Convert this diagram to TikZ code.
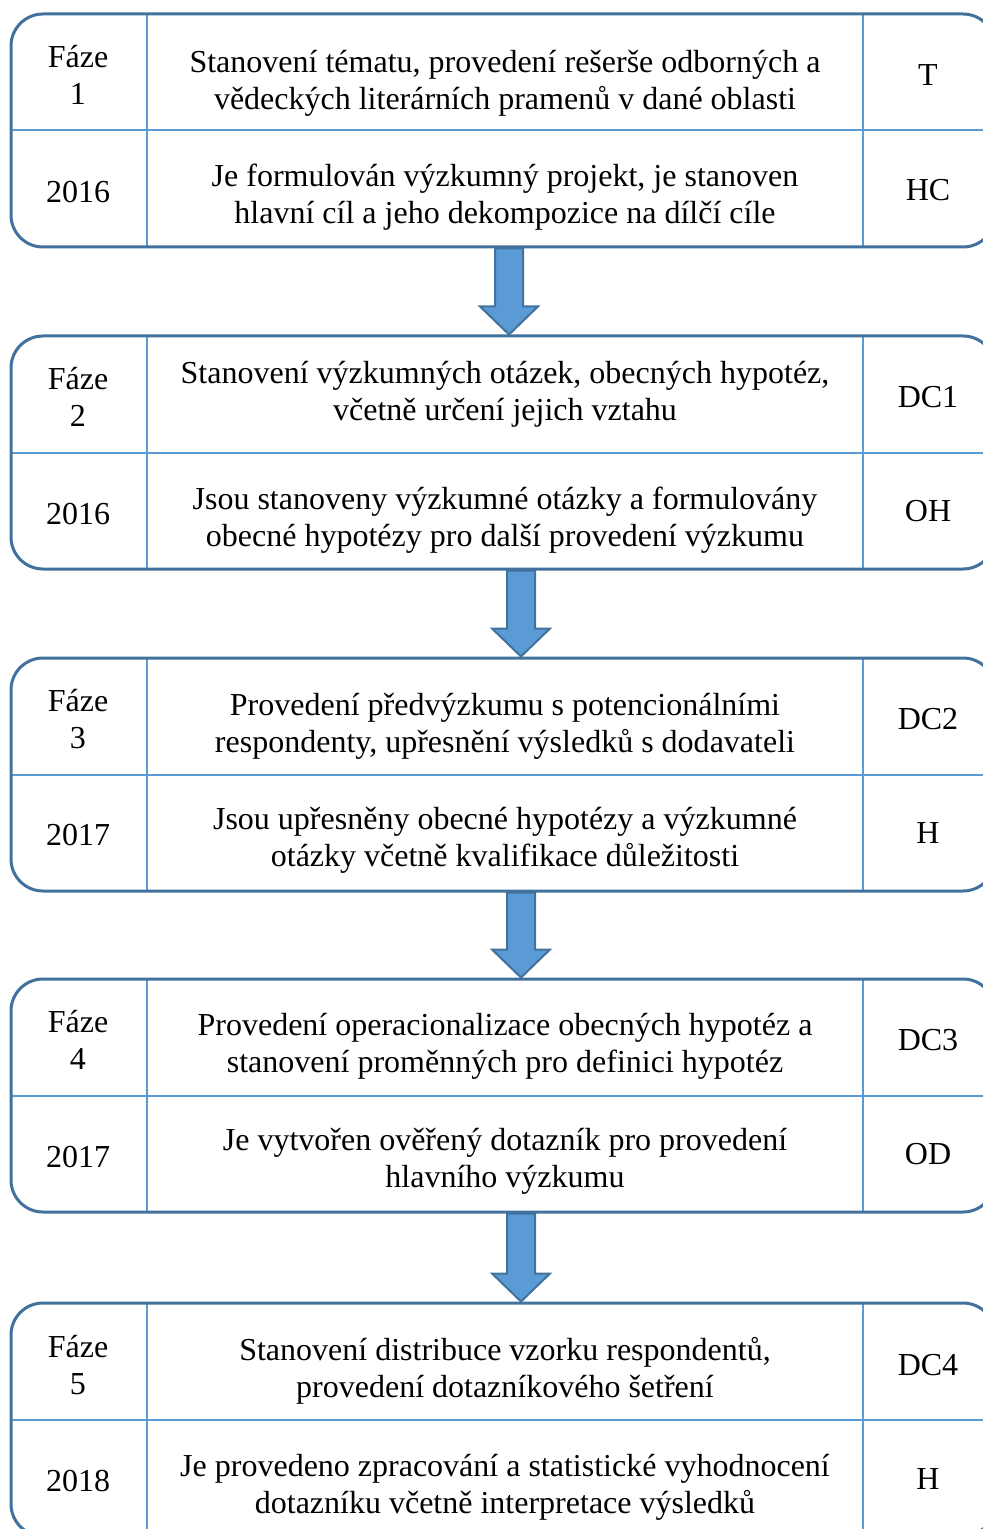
\documentclass[tikz,border=0pt]{standalone}
\usepackage{fontspec}
\setmainfont{Liberation Serif}
\usetikzlibrary{calc}
\definecolor{ramec}{HTML}{41719C}
\definecolor{mrizka}{HTML}{5B9BD5}
\definecolor{vypln}{HTML}{5B9BD5}
\tikzset{
  blok/.style={draw=ramec, line width=1.5pt, rounded corners=16pt,
    minimum width=492pt, minimum height=116.5pt, inner sep=0pt},
  cara/.style={draw=mrizka, line width=1pt},
  sipka/.style={draw=ramec, fill=vypln, line width=1pt, line join=miter},
  txt/.style={align=center, inner sep=0pt, font=\fontsize{16}{18.5}\selectfont},
}
\newcommand\blokSipka[3]{%
  \draw[sipka] ($(#1.south)+(#3-14,0)$) -- ($(#2.north)+(#3-14,-28)$)
    -- ($(#2.north)+(#3-29,-28)$) -- ($(#2.north)+(#3,0)$)
    -- ($(#2.north)+(#3+29,-28)$) -- ($(#2.north)+(#3+14,-28)$)
    -- ($(#1.south)+(#3+14,0)$) -- cycle;}
\begin{document}
\begin{tikzpicture}[x=0.5pt,y=-0.5pt]
  \useasboundingbox (0,0) rectangle (983,1529);
  \clip (0,0) rectangle (983,1529);
  \foreach \i/\t in {1/14,2/336,3/658,4/979,5/1303}{
    \draw[cara] (147,\t) -- (147,\t+233) (863,\t) -- (863,\t+233)
      (11,\t+116.5) -- (995,\t+116.5);
    \node[blok] (b\i) at (503,\t+116.5) {};
  }

  \node[txt] (f1) at (78,75) {Fáze\\1};
  \node[txt] (a1) at (505,83) {Stanovení tématu, provedení rešerše odborných a\\vědeckých literárních pramenů v dané oblasti};
  \node[txt] (c1) at (928,75) {T};
  \node[txt] (y1) at (78,192) {2016};
  \node[txt] (r1) at (505,197) {Je formulován výzkumný projekt, je stanoven\\hlavní cíl a jeho dekompozice na dílčí cíle};
  \node[txt] (d1) at (928,190) {HC};

  \node[txt] (f2) at (78,397) {Fáze\\2};
  \node[txt] (a2) at (505,394) {Stanovení výzkumných otázek, obecných hypotéz,\\včetně určení jejich vztahu};
  \node[txt] (c2) at (928,397) {DC1};
  \node[txt] (y2) at (78,514) {2016};
  \node[txt] (r2) at (505,520) {Jsou stanoveny výzkumné otázky a formulovány\\obecné hypotézy pro další provedení výzkumu};
  \node[txt] (d2) at (928,511) {OH};

  \node[txt] (f3) at (78,719) {Fáze\\3};
  \node[txt] (a3) at (505,726) {Provedení předvýzkumu s potencionálními\\respondenty, upřesnění výsledků s dodavateli};
  \node[txt] (c3) at (928,719) {DC2};
  \node[txt] (y3) at (78,835) {2017};
  \node[txt] (r3) at (505,840) {Jsou upřesněny obecné hypotézy a výzkumné\\otázky včetně kvalifikace důležitosti};
  \node[txt] (d3) at (928,833) {H};

  \node[txt] (f4) at (78,1040) {Fáze\\4};
  \node[txt] (a4) at (505,1046) {Provedení operacionalizace obecných hypotéz a\\stanovení proměnných pro definici hypotéz};
  \node[txt] (c4) at (928,1040) {DC3};
  \node[txt] (y4) at (78,1157) {2017};
  \node[txt] (r4) at (505,1161) {Je vytvořen ověřený dotazník pro provedení\\hlavního výzkumu};
  \node[txt] (d4) at (928,1154) {OD};

  \node[txt] (f5) at (78,1365) {Fáze\\5};
  \node[txt] (a5) at (505,1371) {Stanovení distribuce vzorku respondentů,\\provedení dotazníkového šetření};
  \node[txt] (c5) at (928,1365) {DC4};
  \node[txt] (y5) at (78,1481) {2018};
  \node[txt] (r5) at (505,1487) {Je provedeno zpracování a statistické vyhodnocení\\dotazníku včetně interpretace výsledků};
  \node[txt] (d5) at (928,1479) {H};

  \blokSipka{b1}{b2}{6}
  \blokSipka{b2}{b3}{18}
  \blokSipka{b3}{b4}{18}
  \blokSipka{b4}{b5}{18}
\end{tikzpicture}
\end{document}
